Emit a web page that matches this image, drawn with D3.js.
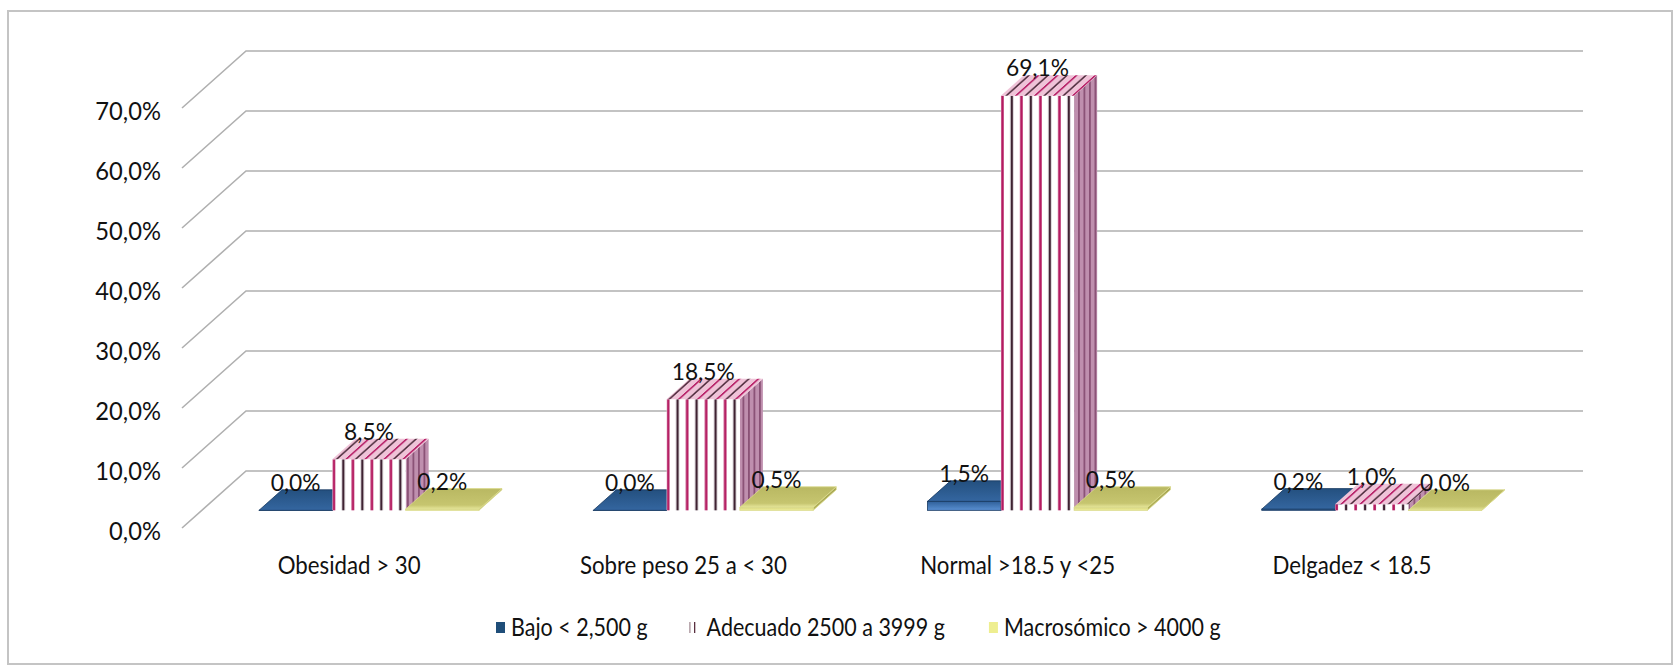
<!DOCTYPE html>
<html>
<head>
<meta charset="utf-8">
<script src="https://cdn.jsdelivr.net/npm/d3@7"></script>
<style>
  html, body { margin: 0; padding: 0; background: #ffffff; }
  svg { display: block; }
  text { font-family: Lato, "Open Sans", "DejaVu Sans Condensed", sans-serif; fill: #111; }
</style>
</head>
<body>
<svg id="chart" width="1679" height="670"></svg>
<script>
// Categories (maternal BMI) and birth-weight series, in percent
const categories = ["Obesidad > 30", "Sobre peso 25 a < 30", "Normal >18.5 y <25", "Delgadez < 18.5"];
const seriesNames = ["Bajo < 2,500 g", "Adecuado 2500 a 3999 g", "Macrosómico > 4000 g"];
const bajo = [0.0, 0.0, 1.5, 0.2];
const adecuado = [8.5, 18.5, 69.1, 1.0];
const macrosomico = [0.2, 0.5, 0.5, 0.0];
const yTicks = [0, 10, 20, 30, 40, 50, 60, 70];

const seriesValues = [bajo, adecuado, macrosomico];

const svg = d3.select("#chart");

// Locale with decimal comma for percentages
const esLocale = d3.formatLocale({ decimal: ",", thousands: ".", grouping: [3], currency: ["", ""] });
const pct = v => esLocale.format(".1f")(v) + "%";

// Oblique projection of the 3D box: front plane plus a depth offset
const floorX = [182, 1519];
const depth = { dx: 64, dy: -57 };
const f0 = 0.31, f1 = 0.67;            // bar front / back depth fractions
const off = f => [depth.dx * f, depth.dy * f];

const y = d3.scaleLinear().domain([0, 70]).range([528, 108]);
const x0 = d3.scaleBand().domain(categories).range(floorX);
const x1 = d3.scaleBand().domain(seriesNames).range([0, x0.bandwidth()]).paddingOuter(0.78).paddingInner(0);

// Text helper: narrow the glyphs horizontally around the anchor point
function label(sel, x, y, str, opts) {
  return sel.append("text")
    .attr("transform", `translate(${x},${y}) scale(${opts.sx},1)`)
    .attr("text-anchor", opts.anchor || "start")
    .attr("font-size", opts.size)
    .text(str);
}

// Outer frame
svg.append("rect")
  .attr("x", 8).attr("y", 11).attr("width", 1664).attr("height", 653)
  .attr("fill", "#fff").attr("stroke", "#c4c4c4").attr("stroke-width", 2);

const defs = svg.append("defs");

// Gridlines: side-wall diagonal + back-wall horizontal
const grid = svg.append("g");
yTicks.forEach(t => {
  const yf = y(t);
  grid.append("path")
    .attr("d", `M${floorX[0]},${yf} L${floorX[0] + depth.dx},${yf + depth.dy} L${floorX[1] + depth.dx},${yf + depth.dy}`)
    .attr("fill", "none").attr("stroke", "#b0b0b0").attr("stroke-width", 1.6);
});

// Y axis labels
const yAxisG = svg.append("g");
yTicks.forEach(t => label(yAxisG, 161, y(t) + 12, pct(t), { sx: 0.95, size: 25, anchor: "end" }));

// Gradients and patterns for the faces
function linGrad(id, stops) {
  const g = defs.append("linearGradient").attr("id", id)
    .attr("x1", "0").attr("y1", "0").attr("x2", "0").attr("y2", "1");
  stops.forEach(([o, c]) => g.append("stop").attr("offset", o).attr("stop-color", c));
}
linGrad("blueTop", [["0", "#24507f"], ["1", "#3466a0"]]);
linGrad("blueFront", [["0", "#2f5f99"], ["1", "#5a90d2"]]);
linGrad("blueSide", [["0", "#1d4470"], ["1", "#2b5a90"]]);
linGrad("yelTop", [["0", "#b9b862"], ["0.8", "#c6c56f"], ["1", "#e6e69a"]]);
linGrad("yelFront", [["0", "#d6d57c"], ["1", "#eeee9c"]]);
linGrad("yelSide", [["0", "#a3a24f"], ["1", "#b3b25c"]]);

// Striped top-face pattern (slanted along depth)
const topPat = defs.append("pattern").attr("id", "pinkTop")
  .attr("patternUnits", "userSpaceOnUse").attr("width", 19).attr("height", 20)
  .attr("patternTransform", "skewX(-48)");
topPat.append("rect").attr("width", 19).attr("height", 20).attr("fill", "#efc3d8");
topPat.append("rect").attr("x", 0).attr("width", 2.4).attr("height", 20).attr("fill", "#b8246a");
topPat.append("rect").attr("x", 9.5).attr("width", 2.2).attr("height", 20).attr("fill", "#4a2738");

// Side-face pattern
const sidePat = defs.append("pattern").attr("id", "pinkSide")
  .attr("patternUnits", "userSpaceOnUse").attr("width", 5.5).attr("height", 10);
sidePat.append("rect").attr("width", 5.5).attr("height", 10).attr("fill", "#bf8fae");
sidePat.append("rect").attr("x", 0).attr("width", 1.8).attr("height", 10).attr("fill", "#8a5276");

// Front-face vertical stripes, one pattern per bar so each starts at its left edge
function frontPattern(id, xStart) {
  const p = defs.append("pattern").attr("id", id)
    .attr("patternUnits", "userSpaceOnUse").attr("x", xStart).attr("y", 0)
    .attr("width", 19).attr("height", 10);
  p.append("rect").attr("width", 19).attr("height", 10).attr("fill", "#ffffff");
  p.append("rect").attr("x", 0.3).attr("width", 2.6).attr("height", 10).attr("fill", "#b3175e");
  p.append("rect").attr("x", 9.8).attr("width", 2.4).attr("height", 10).attr("fill", "#3e2232");
}

const styles = [
  { top: "url(#blueTop)", front: "url(#blueFront)", side: "url(#blueSide)", stroke: "#173860" },
  { top: "url(#pinkTop)", front: null, side: "url(#pinkSide)", stroke: "none" },
  { top: "url(#yelTop)", front: "url(#yelFront)", side: "url(#yelSide)", stroke: "#d9d98a" }
];

// Bars, drawn category by category, left to right
const bars = svg.append("g");
const valueLabels = [];
categories.forEach((cat, ci) => {
  seriesNames.forEach((s, si) => {
    const v = seriesValues[si][ci];
    const xa = x0(cat) + x1(s), xb = xa + x1.bandwidth();
    const [ox0, oy0] = off(f0), [ox1, oy1] = off(f1);
    const yb = y(0), yv = y(v);
    const st = styles[si];
    let frontFill = st.front;
    if (si === 1) {
      const pid = `pinkFront${ci}`;
      frontPattern(pid, xa + ox0);
      frontFill = `url(#${pid})`;
    }
    const g = bars.append("g");
    // side face
    g.append("path")
      .attr("d", `M${xb + ox0},${yb + oy0} L${xb + ox0},${yv + oy0} L${xb + ox1},${yv + oy1} L${xb + ox1},${yb + oy1} Z`)
      .attr("fill", st.side).attr("stroke", st.stroke).attr("stroke-width", 0.8);
    // front face
    g.append("rect")
      .attr("x", xa + ox0).attr("y", yv + oy0)
      .attr("width", xb - xa).attr("height", Math.max(yb - yv, 0.01))
      .attr("fill", frontFill).attr("stroke", st.stroke).attr("stroke-width", 0.8);
    // top face
    g.append("path")
      .attr("d", `M${xa + ox0},${yv + oy0} L${xb + ox0},${yv + oy0} L${xb + ox1},${yv + oy1} L${xa + ox1},${yv + oy1} Z`)
      .attr("fill", st.top).attr("stroke", st.stroke).attr("stroke-width", 0.8);
    valueLabels.push({ x: (xa + xb) / 2 + ox0, y: yv + oy1 + 1, text: pct(v) });
  });
});

// Value labels
const valG = svg.append("g");
valueLabels.forEach(d => label(valG, d.x, d.y, d.text, { sx: 0.95, size: 24, anchor: "middle" }));

// Category labels
const catG = svg.append("g");
categories.forEach(c => label(catG, x0(c) + x0.bandwidth() / 2, 574, c, { sx: 0.89, size: 25, anchor: "middle" }));

// Legend
const legPat = defs.append("pattern").attr("id", "legPink")
  .attr("patternUnits", "userSpaceOnUse").attr("width", 5).attr("height", 10);
legPat.append("rect").attr("width", 5).attr("height", 10).attr("fill", "#fff");
legPat.append("rect").attr("x", 1).attr("width", 1.3).attr("height", 10).attr("fill", "#5a3040");

const legFills = ["#1f4e79", "url(#legPink)", "#eeee90"];
const legend = svg.append("g");
const legSx = 0.86;
let lx = 496;
const ly = 628;
seriesNames.forEach((s, i) => {
  legend.append("rect").attr("x", lx).attr("y", ly - 6).attr("width", 9).attr("height", 11)
    .attr("fill", legFills[i]).attr("transform", i === 1 ? "translate(-2,0)" : null);
  const t = label(legend, lx + 15, ly + 8, s, { sx: legSx, size: 25 });
  lx += 15 + t.node().getComputedTextLength() * legSx + 44;
});
</script>
</body>
</html>
